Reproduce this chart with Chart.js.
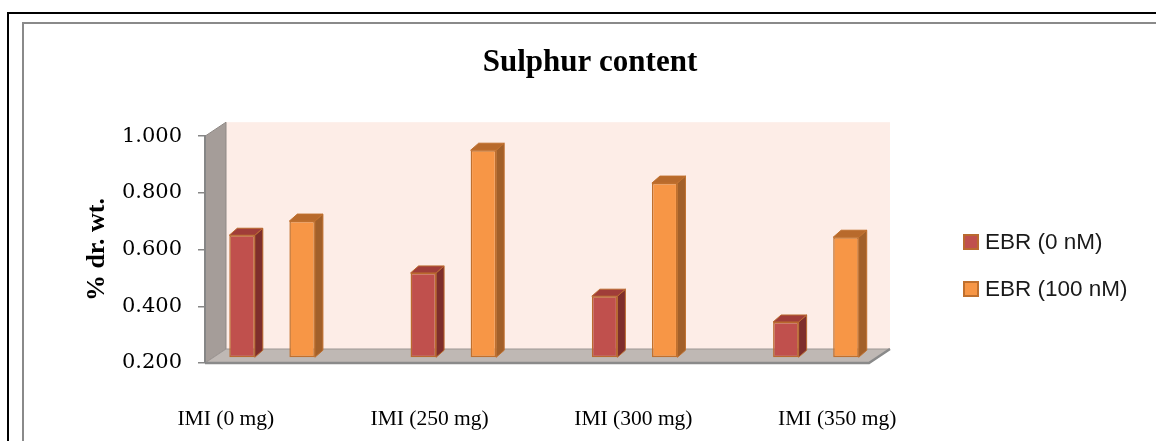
<!DOCTYPE html>
<html>
<head>
<meta charset="utf-8">
<title>Sulphur content</title>
<script src="https://cdn.jsdelivr.net/npm/chart.js@4.4.1/dist/chart.umd.min.js"></script>
<style>
  html, body { margin: 0; padding: 0; background: #fff; }
  #wrap { position: relative; width: 1156px; height: 441px; overflow: hidden; }
  #chart { position: absolute; left: 0; top: 0; }
  #legend { position: absolute; left: 963px; top: 0; font: 22.5px "Liberation Sans", Arial, sans-serif; color: #1a1a1a; }
  .item { position: absolute; left: 0; display: flex; align-items: center; white-space: nowrap; height: 24px; line-height: 24px; }
  .swatch { width: 16px; height: 16px; box-sizing: border-box; margin-right: 6px; flex: none; }
</style>
</head>
<body>
<div id="wrap">
  <canvas id="chart" width="1156" height="441"></canvas>
  <div id="legend"></div>
</div>
<script>
// Sulphur content (% dry weight) by IMI dose, with and without EBR
const categories = ['IMI (0 mg)', 'IMI (250 mg)', 'IMI (300 mg)', 'IMI (350 mg)'];
const seriesNames = ['EBR (0 nM)', 'EBR (100 nM)'];
const ebr0 = [0.633, 0.500, 0.418, 0.327];
const ebr100 = [0.683, 0.933, 0.817, 0.626];
const yTicks = [0.2, 0.4, 0.6, 0.8, 1.0];

// face colours for the 3-D columns: front, side, top
const palette = [
  { front: '#C0504D', side: '#7E2E2C', top: '#A03D39', edge: '#BA6A2F' },
  { front: '#F79646', side: '#A2602A', top: '#B86A2C', edge: '#C0702E' }
];

const WALL_DEPTH = { x: 21, y: -14 };  // floor / walls receding
const BAR_SHIFT = { x: 7, y: -5 };     // columns stand a third of the way back
const BAR_DEPTH = { x: 8, y: -7 };     // thickness of each column

function poly(ctx, pts, fill, stroke, lw) {
  ctx.beginPath();
  ctx.moveTo(pts[0][0], pts[0][1]);
  for (let i = 1; i < pts.length; i++) ctx.lineTo(pts[i][0], pts[i][1]);
  ctx.closePath();
  if (fill) { ctx.fillStyle = fill; ctx.fill(); }
  if (stroke) { ctx.strokeStyle = stroke; ctx.lineWidth = lw || 1; ctx.stroke(); }
}

const box3d = {
  id: 'box3d',
  beforeDraw(chart) {
    const { ctx, chartArea: a } = chart;
    const D = WALL_DEPTH;
    ctx.save();
    // page frame
    ctx.fillStyle = '#000';
    ctx.fillRect(7, 12, 2, chart.height);
    ctx.fillRect(7, 12, chart.width, 2);
    ctx.fillStyle = '#8a8a8a';
    ctx.fillRect(22, 22, 2, chart.height);
    ctx.fillRect(22, 22, chart.width, 2);
    // back wall
    ctx.fillStyle = '#FDEDE7';
    ctx.fillRect(a.left + D.x, a.top + D.y, a.right - a.left, a.bottom - a.top);
    // side wall
    poly(ctx, [[a.left, a.top], [a.left + D.x, a.top + D.y], [a.left + D.x, a.bottom + D.y], [a.left, a.bottom]], '#A59D99', '#8f8985', 1);
    // floor
    poly(ctx, [[a.left, a.bottom], [a.left + D.x, a.bottom + D.y], [a.right + D.x, a.bottom + D.y], [a.right, a.bottom]], '#BFB8B4', '#9d9794', 1);
    ctx.strokeStyle = '#8a8a8a';
    ctx.lineWidth = 2.5;
    ctx.beginPath();
    ctx.moveTo(a.left, a.bottom);
    ctx.lineTo(a.right, a.bottom);
    ctx.lineTo(a.right + D.x, a.bottom + D.y);
    ctx.stroke();
    ctx.restore();
  },
  beforeDatasetsDraw(chart) {
    chart.ctx.save();
    chart.ctx.translate(BAR_SHIFT.x, BAR_SHIFT.y);
  },
  afterDatasetDraw(chart, args) {
    const ctx = chart.ctx;
    const c = palette[args.index];
    const B = BAR_DEPTH;
    args.meta.data.forEach(el => {
      const { x, y, base, width } = el.getProps(['x', 'y', 'base', 'width'], true);
      const l = x - width / 2, r = x + width / 2;
      poly(ctx, [[r, y], [r + B.x, y + B.y], [r + B.x, base + B.y], [r, base]], c.side, c.edge, 1);
      poly(ctx, [[l, y], [l + B.x, y + B.y], [r + B.x, y + B.y], [r, y]], c.top, c.edge, 1);
    });
  },
  afterDatasetsDraw(chart) {
    chart.ctx.restore();
  }
};

const seriesValues = [ebr0, ebr100];
const chart = new Chart(document.getElementById('chart'), {
  type: 'bar',
  data: {
    datasets: seriesValues.map((vals, s) => ({
      label: seriesNames[s],
      data: vals.map((v, i) => ({ x: i, y: v })),
      base: yTicks[0],
      backgroundColor: palette[s].front,
      borderColor: palette[s].edge,
      borderWidth: 1.5,
      borderSkipped: false,
      categoryPercentage: 0.663,
      barPercentage: 0.425,
      xAxisID: 'x',
      yAxisID: 'y'
    }))
  },
  options: {
    responsive: false,
    animation: false,
    devicePixelRatio: 1,
    layout: { padding: { left: 24, right: 0, top: 0, bottom: 0 } },
    plugins: {
      legend: { display: false },
      tooltip: { enabled: false },
      title: {
        display: true,
        text: 'Sulphur content',
        color: '#000',
        font: { family: 'Liberation Serif', size: 31, weight: 'bold' },
        padding: { top: 44, bottom: 55 }
      }
    },
    scales: {
      x: {
        type: 'linear', display: false, min: -0.3315, max: 3.3315, offset: false,
        afterBuildTicks: s => { s.ticks = categories.map((_, i) => ({ value: i })); }
      },
      x2: {
        type: 'linear', position: 'bottom', min: -0.102, max: 3.156, offset: false,
        grid: { display: false, drawTicks: false },
        border: { display: false },
        afterBuildTicks: s => { s.ticks = categories.map((_, i) => ({ value: i })); },
        afterFit: s => { s.height = 78; },
        ticks: {
          autoSkip: false, maxRotation: 0, padding: 43, color: '#000',
          font: { family: 'Liberation Serif', size: 21.5 },
          callback: v => categories[v]
        }
      },
      y: {
        position: 'left', min: 0.2, max: 1.0,
        afterBuildTicks: s => { s.ticks = yTicks.map(v => ({ value: v })); },
        afterFit: s => { s.width = 181; },
        ticks: {
          padding: 16, color: '#000',
          font: { family: 'DejaVu Serif', size: 21 },
          callback: v => v.toFixed(3)
        },
        grid: { drawOnChartArea: false, drawTicks: true, tickLength: 7, color: '#868686', lineWidth: 1.5 },
        border: { display: true, color: '#868686', width: 2 },
        title: {
          display: true, text: '% dr. wt.', color: '#000',
          font: { family: 'Liberation Serif', size: 26, weight: 'bold' },
          padding: { top: 58, bottom: 0 }
        }
      },
      yR: {
        position: 'right', display: true,
        grid: { display: false }, border: { display: false }, ticks: { display: false },
        afterFit: s => { s.width = 287; }
      }
    }
  },
  plugins: [box3d]
});

// legend built from the chart's own legend items
const legendEl = document.getElementById('legend');
const rowTops = [230, 277];
Chart.defaults.plugins.legend.labels.generateLabels(chart).forEach((item, i) => {
  const row = document.createElement('div');
  row.className = 'item';
  row.style.top = rowTops[i] + 'px';
  const sw = document.createElement('span');
  sw.className = 'swatch';
  sw.style.background = item.fillStyle;
  sw.style.border = '2px solid ' + item.strokeStyle;
  const tx = document.createElement('span');
  tx.textContent = item.text;
  row.appendChild(sw);
  row.appendChild(tx);
  legendEl.appendChild(row);
});
</script>
</body>
</html>
